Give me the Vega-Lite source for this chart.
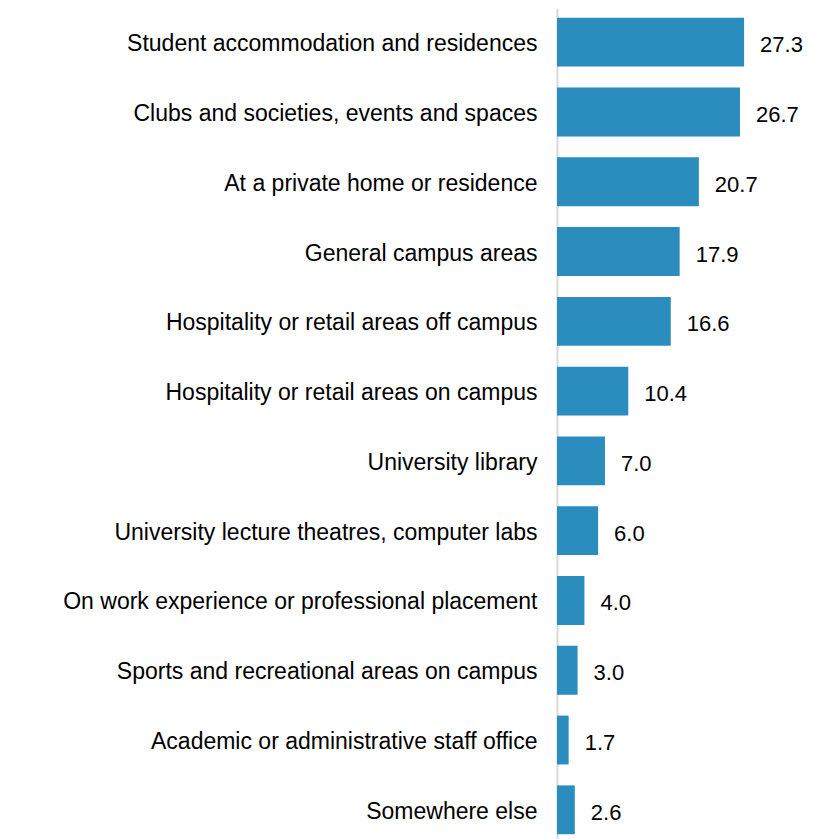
{
  "$schema": "https://vega.github.io/schema/vega-lite/v6.json",
  "autosize": {"type": "none"},
  "width": 257,
  "height": 836,
  "padding": {"left": 557, "top": 8, "right": 0, "bottom": 0},
  "background": "white",
  "config": {"view": {"stroke": null}, "font": "Liberation Sans"},
  "data": {"values": [
    {"category": "Student accommodation and residences", "value": 27.3},
    {"category": "Clubs and societies, events and spaces", "value": 26.7},
    {"category": "At a private home or residence", "value": 20.7},
    {"category": "General campus areas", "value": 17.9},
    {"category": "Hospitality or retail areas off campus", "value": 16.6},
    {"category": "Hospitality or retail areas on campus", "value": 10.4},
    {"category": "University library", "value": 7.0},
    {"category": "University lecture theatres, computer labs", "value": 6.0},
    {"category": "On work experience or professional placement", "value": 4.0},
    {"category": "Sports and recreational areas on campus", "value": 3.0},
    {"category": "Academic or administrative staff office", "value": 1.7},
    {"category": "Somewhere else", "value": 2.6}
  ]},
  "encoding": {
    "y": {"field": "category", "type": "nominal", "sort": null,
      "scale": {"paddingInner": 0.3, "paddingOuter": 0.14},
      "axis": {"title": null, "ticks": false, "labelFontSize": 23, "labelColor": "#000000", "labelPadding": 20, "labelLimit": 600, "labelOffset": 2, "domainColor": "#d9d9d9", "domainWidth": 2, "grid": false}},
    "x": {"field": "value", "type": "quantitative", "scale": {"domain": [0, 37.5], "nice": false}, "axis": null}
  },
  "layer": [
    {"mark": {"type": "bar", "color": "#2B8CBE"}},
    {"mark": {"type": "text", "align": "left", "baseline": "middle", "dx": 16, "dy": 3, "fontSize": 22, "color": "#000000"},
     "encoding": {"text": {"field": "value", "type": "quantitative", "format": ".1f"}}}
  ]
}
